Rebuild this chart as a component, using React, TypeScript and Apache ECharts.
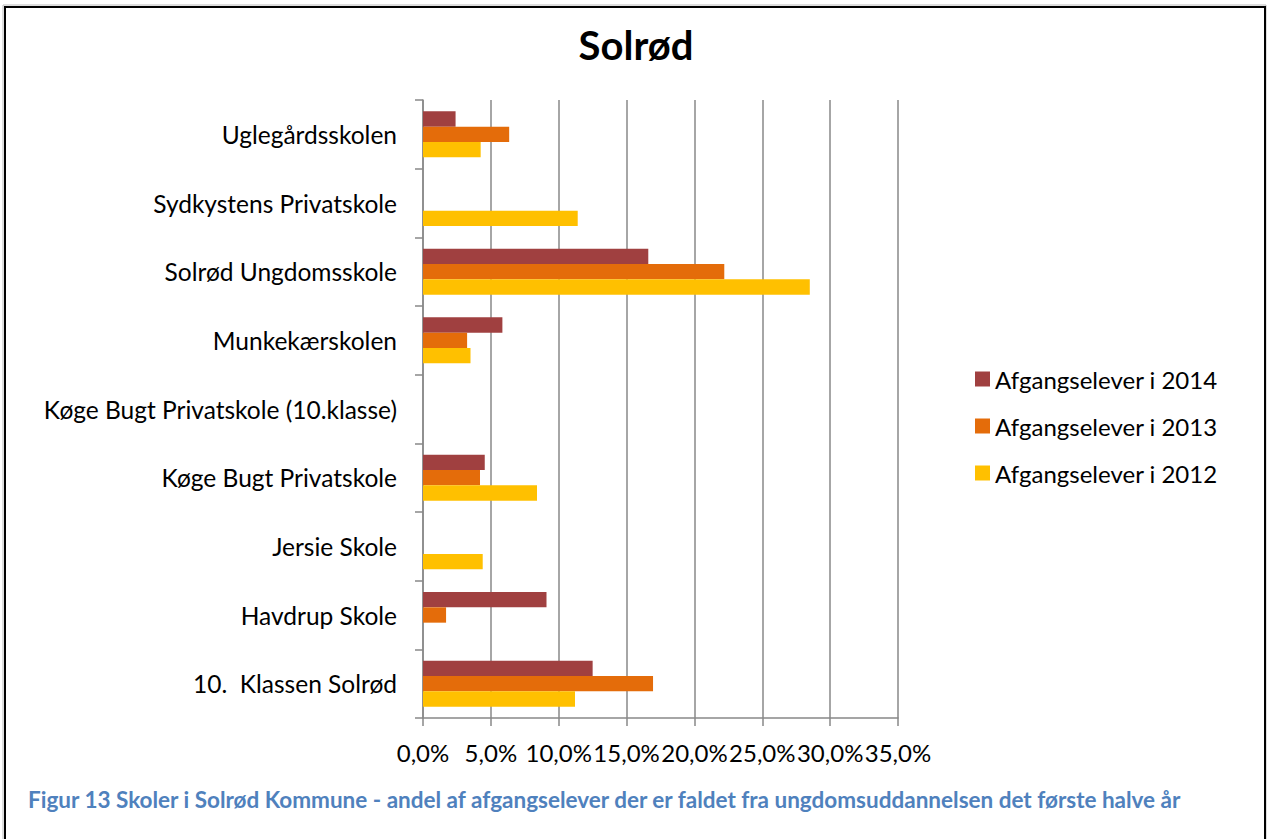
import React, { useEffect, useRef } from "react";
import * as echarts from "echarts";

const categories = [
  "10.  Klassen Solrød",
  "Havdrup Skole",
  "Jersie Skole",
  "Køge Bugt Privatskole",
  "Køge Bugt Privatskole (10.klasse)",
  "Munkekærskolen",
  "Solrød Ungdomsskole",
  "Sydkystens Privatskole",
  "Uglegårdsskolen",
];
const values2014 = [12.5, 9.1, null, 4.55, null, 5.85, 16.6, null, 2.4];
const values2013 = [16.95, 1.7, null, 4.2, null, 3.25, 22.2, null, 6.35];
const values2012 = [11.2, null, 4.4, 8.4, null, 3.5, 28.5, 11.4, 4.25];
const seriesNames = ["Afgangselever i 2014", "Afgangselever i 2013", "Afgangselever i 2012"];
const seriesColors = ["#A04040", "#E46C0A", "#FFC000"];
const xTicks = { min: 0, max: 35, interval: 5 };
const chartTitle = "Solrød";
const caption =
  "Figur 13 Skoler i Solrød Kommune - andel af afgangselever der er faldet fra ungdomsuddannelsen det første halve år";

const FONT = "Lato, 'Open Sans', sans-serif";

export default function App() {
  const ref = useRef<HTMLDivElement>(null);
  useEffect(() => {
    if (!ref.current) return;
    const chart = echarts.init(ref.current, undefined, { renderer: "svg" });
    const allValues = [values2014, values2013, values2012];
    chart.setOption({
      animation: false,
      backgroundColor: "#ffffff",
      title: {
        text: chartTitle,
        left: 631,
        top: 20,
        textAlign: "center",
        textStyle: { fontFamily: FONT, fontSize: 40, fontWeight: "bold", color: "#000" },
      },
      legend: {
        orient: "vertical",
        left: 970,
        top: 362,
        itemWidth: 15,
        itemHeight: 15,
        itemGap: 23,
        icon: "rect",
        data: seriesNames,
        textStyle: { fontFamily: FONT, fontSize: 24, color: "#000" },
      },
      grid: { left: 423, top: 100, right: 370, bottom: 121, containLabel: false },
      xAxis: {
        type: "value",
        min: xTicks.min,
        max: xTicks.max,
        interval: xTicks.interval,
        axisLine: { show: true, lineStyle: { color: "#888", width: 1.5 } },
        axisTick: { show: true, length: 8, lineStyle: { color: "#888", width: 1.5 } },
        splitLine: { show: true, lineStyle: { color: "#888", width: 1.5 } },
        axisLabel: {
          margin: 22,
          fontFamily: FONT,
          fontSize: 24,
          color: "#000",
          formatter: (v: number) => v.toFixed(1).replace(".", ",") + "%",
        },
      },
      yAxis: {
        type: "category",
        data: categories,
        axisLine: { show: true, lineStyle: { color: "#888", width: 1.5 } },
        axisTick: { show: true, length: 8, lineStyle: { color: "#888", width: 1.5 } },
        axisLabel: { margin: 26, fontFamily: FONT, fontSize: 24.5, color: "#000" },
      },
      series: seriesNames.map((name, i) => ({
        name,
        type: "bar",
        data: allValues[i],
        itemStyle: { color: seriesColors[i] },
        barGap: "0%",
        barCategoryGap: "33%",
      })),
      graphic: [
        {
          type: "rect",
          shape: { x: 3, y: 5, width: 1263, height: 900 },
          style: { fill: "none", stroke: "#bbb", lineWidth: 1 },
          silent: true,
        },
        {
          type: "rect",
          shape: { x: 5, y: 7, width: 1260, height: 900 },
          style: { fill: "none", stroke: "#000", lineWidth: 2 },
          silent: true,
        },
        {
          type: "text",
          left: 28,
          top: 788,
          style: {
            text: caption,
            fontFamily: FONT,
            fontSize: 22.5,
            fontWeight: "bold",
            fill: "#4F81BD",
          },
        },
      ],
    });
    return () => chart.dispose();
  }, []);
  return (
    <div
      ref={ref}
      style={{ position: "fixed", left: 0, top: 0, width: 1268, height: 839 }}
    />
  );
}
